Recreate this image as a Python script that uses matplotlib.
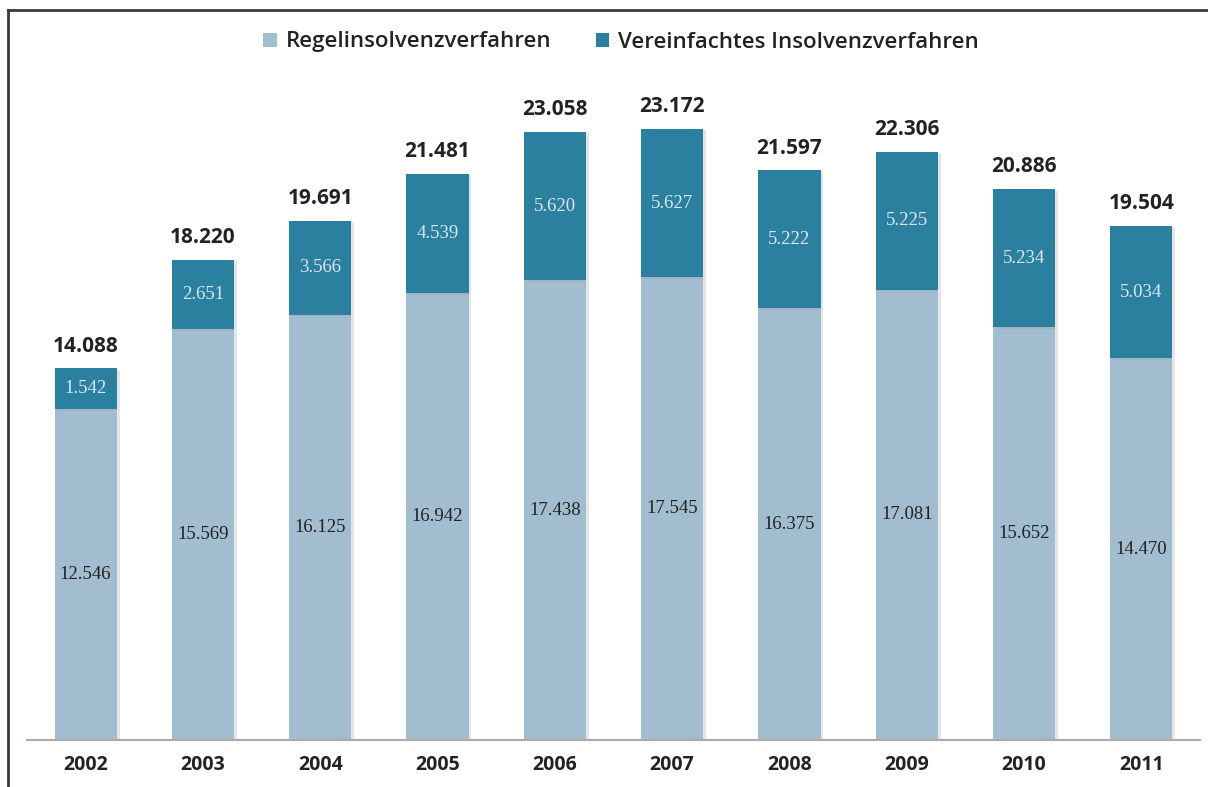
import matplotlib
matplotlib.use('Agg')
import matplotlib.pyplot as plt
import matplotlib.patheffects as pe
from matplotlib.lines import Line2D
from matplotlib.patches import Patch
import numpy as np

years = ['2002', '2003', '2004', '2005', '2006', '2007', '2008', '2009', '2010', '2011']
regel = [12546, 15569, 16125, 16942, 17438, 17545, 16375, 17081, 15652, 14470]
vereinfacht = [1542, 2651, 3566, 4539, 5620, 5627, 5222, 5225, 5234, 5034]
totals = [14088, 18220, 19691, 21481, 23058, 23172, 21597, 22306, 20886, 19504]

COLORS = {
    'light': '#a3bdd0',
    'dark':  '#2b7f9f',
    'text':  '#222222',
    'inner_light': '#dbe7ee',
    'axis':  '#b0a8a4',
    'frame': '#3a3a3a',
}

W, H = 1208, 787
fig = plt.figure(figsize=(W / 100, H / 100), dpi=100, facecolor='white')

# axes: baseline at y=740px, top at 90px
px_per_unit = 0.02637
top_px = 90
ax = fig.add_axes([27 / W, (H - 740) / H, (1200 - 27) / W, (740 - top_px) / H])
ax.set_xlim(-0.5, 9.5)
ax.set_ylim(0, (740 - top_px) / px_per_unit)

x = np.arange(len(years))
shadow = [pe.SimplePatchShadow(offset=(2, -1), shadow_rgbFace='#999999', alpha=0.25), pe.Normal()]
b1 = ax.bar(x, regel, 0.53, color=COLORS['light'], zorder=2, path_effects=shadow)
b2 = ax.bar(x, vereinfacht, 0.53, bottom=regel, color=COLORS['dark'], zorder=2, path_effects=shadow)

for i in range(len(years)):
    ax.text(x[i], regel[i] / 2, f'{regel[i]:,}'.replace(',', '.'), ha='center', va='center',
            fontsize=13.5, family='Liberation Serif', color=COLORS['text'], zorder=3)
    ax.text(x[i], regel[i] + vereinfacht[i] / 2, f'{vereinfacht[i]:,}'.replace(',', '.'),
            ha='center', va='center', fontsize=13.5, family='Liberation Serif',
            color=COLORS['inner_light'], zorder=3)
    ax.text(x[i], totals[i] + 850, f'{totals[i]:,}'.replace(',', '.'), ha='center', va='center',
            fontsize=15, fontweight='bold', family='Open Sans', color=COLORS['text'], zorder=3)

for s in ['top', 'right', 'left']:
    ax.spines[s].set_visible(False)
ax.spines['bottom'].set_color(COLORS['axis'])
ax.spines['bottom'].set_linewidth(1.5)
ax.set_yticks([])
ax.set_xticks(x)
ax.set_xticklabels(years, fontsize=14, fontweight='bold', family='Open Sans', color=COLORS['text'])
ax.tick_params(axis='x', length=0, pad=11)

handles = [Patch(facecolor=COLORS['light'], label='Regelinsolvenzverfahren'),
           Patch(facecolor=COLORS['dark'], label='Vereinfachtes Insolvenzverfahren')]
fig.legend(handles=handles, loc='center', bbox_to_anchor=(621 / W, 1 - 42 / H), ncol=2,
           frameon=False, prop={'family': 'Open Sans', 'size': 16, 'weight': 600},
           handlelength=0.6, handleheight=0.6, handletextpad=0.4, columnspacing=2.0,
           labelcolor=COLORS['text'])

# frame lines top and left
fig.add_artist(Line2D([8 / W, 1], [1 - 10 / H, 1 - 10 / H], color=COLORS['frame'], linewidth=2,
                      transform=fig.transFigure))
fig.add_artist(Line2D([8 / W, 8 / W], [0, 1 - 10 / H], color=COLORS['frame'], linewidth=2,
                      transform=fig.transFigure))

plt.savefig('out.png', dpi=100, facecolor='white')
plt.close()
